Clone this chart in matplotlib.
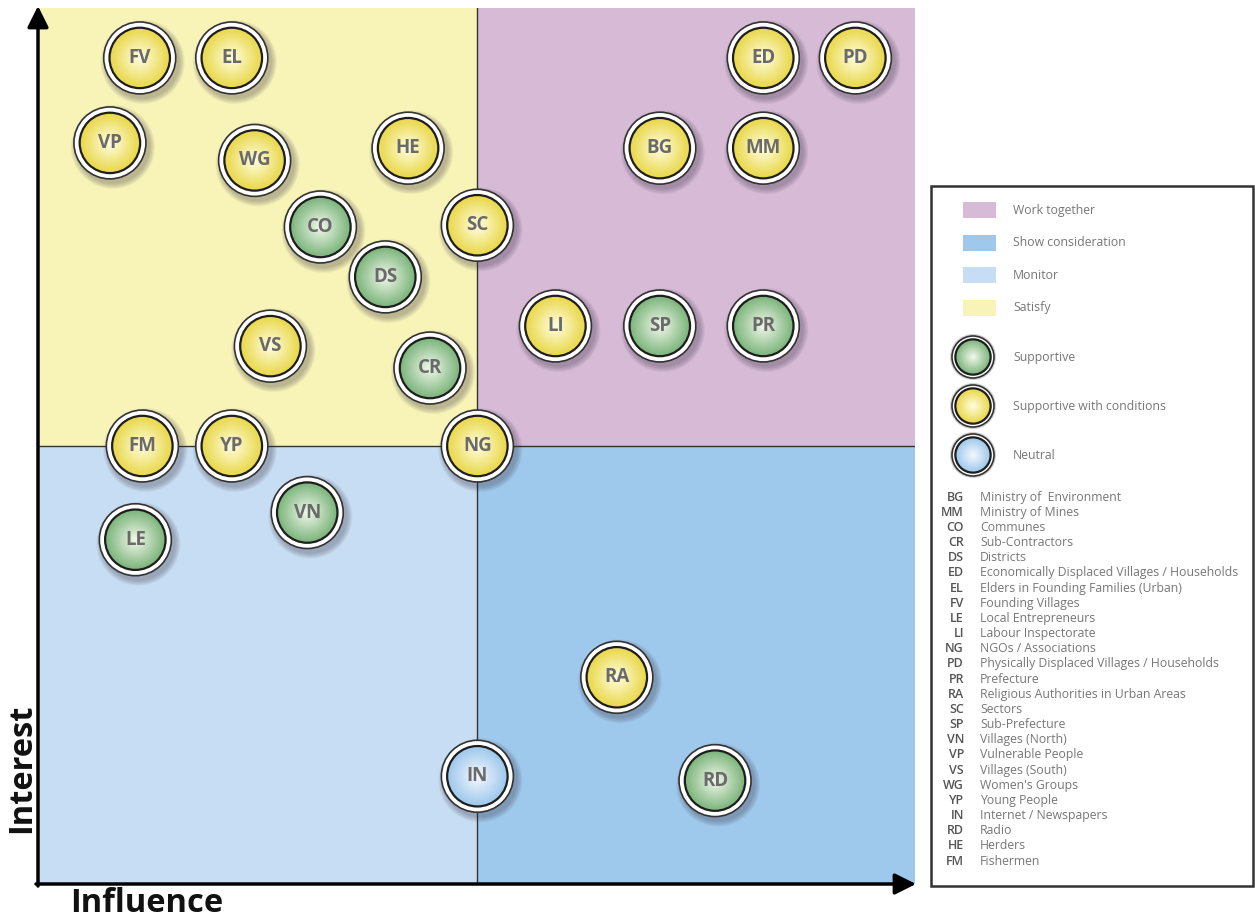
import numpy as np
import matplotlib
matplotlib.use("Agg")
import matplotlib.pyplot as plt
from matplotlib.patches import Circle, Rectangle
from matplotlib.colors import to_rgb

plt.rcParams['font.family'] = ['Open Sans', 'DejaVu Sans']

# stakeholders on the influence / interest grid (0..10 each)
codes = ["FV", "EL", "ED", "PD", "VP", "WG", "HE", "BG", "MM", "CO", "SC", "DS", "LI",
         "SP", "PR", "VS", "CR", "FM", "YP", "NG", "VN", "LE", "RA", "IN", "RD"]
influence = [1.16, 2.21, 8.27, 9.32, 0.82, 2.47, 4.22, 7.09, 8.27, 3.22, 5.01, 3.96, 5.90,
             7.09, 8.27, 2.65, 4.47, 1.19, 2.21, 5.01, 3.07, 1.11, 6.60, 5.01, 7.72]
interest = [9.43, 9.43, 9.43, 9.43, 8.46, 8.26, 8.40, 8.40, 8.40, 7.50, 7.52, 6.93, 6.37,
            6.37, 6.37, 6.14, 5.89, 5.00, 5.00, 5.00, 4.24, 3.93, 2.36, 1.23, 1.18]
stance = ["cond", "cond", "cond", "cond", "cond", "cond", "cond", "cond", "cond", "sup", "cond",
          "sup", "cond", "sup", "sup", "cond", "sup", "cond", "cond", "cond", "sup", "sup",
          "cond", "neutral", "sup"]

quadrant_names = ["Work together", "Show consideration", "Monitor", "Satisfy"]
quadrant_colors = ["#d6bad6", "#9ec8ec", "#c7ddf3", "#f8f4b8"]
stance_names = ["Supportive", "Supportive with conditions", "Neutral"]
stance_keys = ["sup", "cond", "neutral"]

# (edge colour, centre colour) of the radial fill
stance_fill = {"sup": ("#7db57d", "#eaf4e4"),
               "cond": ("#e9d84c", "#fefbd6"),
               "neutral": ("#9ec8ec", "#f0f6fd")}

abbrev_codes = ["BG", "MM", "CO", "CR", "DS", "ED", "EL", "FV", "LE", "LI", "NG", "PD", "PR",
                "RA", "SC", "SP", "VN", "VP", "VS", "WG", "YP", "IN", "RD", "HE", "FM"]
abbrev_names = ["Ministry of  Environment", "Ministry of Mines", "Communes", "Sub-Contractors",
                "Districts", "Economically Displaced Villages / Households",
                "Elders in Founding Families (Urban)", "Founding Villages", "Local Entrepreneurs",
                "Labour Inspectorate", "NGOs / Associations",
                "Physically Displaced Villages / Households", "Prefecture",
                "Religious Authorities in Urban Areas", "Sectors", "Sub-Prefecture",
                "Villages (North)", "Vulnerable People", "Villages (South)", "Women's Groups",
                "Young People", "Internet / Newspapers", "Radio", "Herders", "Fishermen"]

W, H = 1255, 922
fig = plt.figure(figsize=(W / 100, H / 100), dpi=100)

ax = fig.add_axes([38 / W, 1 - 884 / H, 877 / W, 876 / H])
ax.set_xlim(0, 10)
ax.set_ylim(0, 10)
ax.axis("off")
ax.set_zorder(0)

px = 10 / 877.0  # data units per pixel

# quadrants: top-right, bottom-right, bottom-left, top-left
corners = [(5, 5), (5, 0), (0, 0), (0, 5)]
for (x0, y0), c in zip(corners, quadrant_colors):
    ax.add_patch(Rectangle((x0, y0), 5, 5, facecolor=c, edgecolor="none", zorder=0))
ax.plot([5, 5], [0, 10], color="#333333", lw=1, zorder=1)
ax.plot([0, 10], [5, 5], color="#333333", lw=1, zorder=1)


def bubble(axis, x, y, r, key, z, unit, ydir=1, shadow=True):
    edge, centre = stance_fill[key]
    e = np.array(to_rgb(edge))
    c = np.array(to_rgb(centre))
    if shadow:
        # soft shadow to the lower right
        for k in range(6):
            axis.add_patch(Circle((x + 3 * unit, y - ydir * 4 * unit), r + (6 - k) * unit,
                                  facecolor="#3a3040", edgecolor="none", alpha=0.06, zorder=z))
    else:
        axis.add_patch(Circle((x, y), r + 2 * unit, facecolor="#d0d0d0", edgecolor="none",
                              zorder=z))
    axis.add_patch(Circle((x, y), r, facecolor="white", edgecolor="#333333", lw=1.2, zorder=z + 1))
    inner = r * 0.84
    n = 14
    for k in range(n):
        t = k / (n - 1)
        col = e * (1 - t) + c * t
        rr = inner * (1 - 0.9 * t)
        axis.add_patch(Circle((x, y), rr, facecolor=col, edgecolor="none", zorder=z + 2))
    axis.add_patch(Circle((x, y), inner, facecolor="none", edgecolor="#1e1e1e", lw=1.6, zorder=z + 3))


for i, (code, xv, yv, s) in enumerate(zip(codes, influence, interest, stance)):
    z = 5 + i * 5
    bubble(ax, xv, yv, 36 * px, s, z, px)
    ax.text(xv, yv, code, ha="center", va="center", fontsize=13.5, fontweight="bold",
            color="#6a6a6a", zorder=z + 4)

# overlay in pixel coordinates for arrows, labels and legend
ov = fig.add_axes([0, 0, 1, 1])
ov.set_xlim(0, W)
ov.set_ylim(H, 0)
ov.axis("off")
ov.set_zorder(1)
ov.patch.set_alpha(0)

ov.annotate("", xy=(38, 6), xytext=(38, 886),
            arrowprops=dict(arrowstyle="-|>", lw=2.5, color="black", mutation_scale=32,
                            shrinkA=0, shrinkB=0))
ov.annotate("", xy=(916, 884), xytext=(36, 884),
            arrowprops=dict(arrowstyle="-|>", lw=2.5, color="black", mutation_scale=32,
                            shrinkA=0, shrinkB=0))
ov.text(22, 768, "Interest", rotation=90, ha="center", va="center", fontsize=23.5,
        fontweight="bold", color="#111111")
ov.text(147, 903, "Influence", ha="center", va="center", fontsize=23.5,
        fontweight="bold", color="#111111")

# legend box
ov.add_patch(Rectangle((931, 186), 322, 700, facecolor="white", edgecolor="#333333", lw=1.8,
                       zorder=2))
legend_swatch = ["#d6bad6", "#9ec8ec", "#c7ddf3", "#f8f4b8"]
for j, (name, c) in enumerate(zip(quadrant_names, legend_swatch)):
    yy = 210 + j * 32.5
    ov.add_patch(Rectangle((963, yy - 8), 33, 16, facecolor=c, edgecolor="none", zorder=3))
    ov.text(1013, yy, name, ha="left", va="center", fontsize=8.8, color="#777777", zorder=3)

for j, (name, key) in enumerate(zip(stance_names, stance_keys)):
    yy = 357 + j * 49
    bubble(ov, 973, yy, 21, key, 4, 1, ydir=-1, shadow=False)
    ov.text(1013, yy, name, ha="left", va="center", fontsize=8.8, color="#777777", zorder=10)

for j, (code, name) in enumerate(zip(abbrev_codes, abbrev_names)):
    yy = 497 + j * 15.17
    ov.text(964, yy, code, ha="right", va="center", fontsize=9, fontweight="semibold",
            color="#555555", zorder=3)
    ov.text(980, yy, name, ha="left", va="center", fontsize=8.8, color="#777777", zorder=3)

fig.savefig("out.png", dpi=100, facecolor="white")
